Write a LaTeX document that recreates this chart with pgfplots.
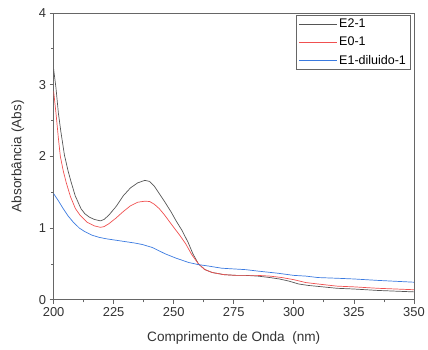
\documentclass[border=0pt]{standalone}
\usepackage{pgfplots}
\pgfplotsset{compat=1.18}
\usepackage{fontspec}
\setmainfont{Liberation Sans}
\usetikzlibrary{calc}
\definecolor{cgrey}{HTML}{666666}
\definecolor{cline}{HTML}{555555}
\definecolor{cred}{HTML}{F05050}
\definecolor{cblue}{HTML}{3A7AE0}
\definecolor{ctext}{HTML}{333333}
\begin{document}
\begin{tikzpicture}
\begin{axis}[
  scale only axis,
  width=363pt, height=289pt,
  xmin=200, xmax=350, ymin=0, ymax=4,
  xtick={200,225,...,350}, ytick={0,1,2,3,4},
  minor x tick num=1, minor y tick num=1,
  tick align=outside,
  major tick length=4pt, minor tick length=2.5pt,
  xtick pos=bottom, ytick pos=left,
  axis line style={cgrey, line width=0.8pt},
  tick style={cgrey, line width=0.7pt},
  ticklabel style={font=\fontsize{13}{14}\selectfont, text=ctext},
  /pgf/number format/assume math mode=true,
  xlabel={Comprimento de Onda\ \ (nm)},
  ylabel={Absorbância (Abs)},
  label style={font=\fontsize{13.7}{15}\selectfont, text=ctext},
  xlabel style={yshift=-9pt},
  ylabel style={yshift=8pt},
  legend style={at={(rel axis cs:0.99,0.994)}, anchor=north east,
    draw=cgrey, line width=0.8pt, font=\fontsize{12.6}{13}\selectfont,
    inner sep=2pt, row sep=4pt, cells={anchor=west}},
  legend cell align=left,
  legend image code/.code={\draw[#1, line width=0.7pt] (0pt,0pt) -- (38pt,0pt);},
]
\addplot[cline, line width=0.7pt] coordinates {
(200,3.22) (201,2.95) (202,2.6) (203,2.35) (204.5,2.02) (206,1.8) (207.3,1.64) (209,1.45) (211.4,1.27) (213,1.2) (215,1.15) (217,1.12) (219.5,1.10) (221,1.12) (223,1.18) (226,1.3) (229,1.45) (232,1.56) (235,1.63) (238,1.665) (240,1.65) (242,1.58) (244,1.48) (246,1.38) (249,1.22) (251,1.1) (253.4,0.97) (256,0.8) (258,0.64) (260.3,0.5) (263,0.42) (266,0.38) (271,0.35) (276,0.34) (280,0.34) (285,0.33) (290,0.31) (294,0.29) (298,0.26) (302,0.22) (306,0.2) (312,0.18) (318,0.16) (325,0.15) (335,0.13) (350,0.11)
};
\addlegendentry{E2-1}
\addplot[cred, line width=0.7pt] coordinates {
(200,2.91) (201,2.6) (202,2.25) (202.8,2.0) (204,1.8) (205.2,1.64) (207,1.44) (209.1,1.27) (211,1.18) (214,1.08) (217,1.03) (219.5,1.01) (221,1.02) (223,1.06) (226,1.14) (229,1.23) (232,1.31) (235,1.36) (238,1.375) (240,1.37) (242,1.33) (244,1.27) (246,1.19) (248,1.1) (250,1.01) (252.5,0.9) (255,0.78) (257.5,0.63) (260.3,0.5) (263,0.42) (266,0.38) (271,0.35) (276,0.34) (280,0.34) (285,0.34) (290,0.33) (295,0.31) (300,0.28) (305,0.24) (310,0.22) (318,0.19) (325,0.18) (335,0.16) (350,0.14)
};
\addlegendentry{E0-1}
\addplot[cblue, line width=0.7pt] coordinates {
(200,1.48) (202,1.38) (204,1.27) (206,1.17) (208,1.09) (210.7,1.0) (213,0.95) (216,0.9) (219,0.87) (222,0.85) (226,0.83) (230,0.81) (234,0.79) (237,0.77) (241,0.73) (246.5,0.64) (251,0.58) (256.2,0.52) (260.3,0.49) (264.5,0.47) (270,0.44) (275,0.43) (280,0.42) (285,0.40) (293.4,0.37) (300,0.34) (305,0.33) (310,0.31) (318,0.3) (325,0.29) (335,0.27) (350,0.245)
};
\addlegendentry{E1-diluido-1}
\end{axis}
\path[use as bounding box] ($(current axis.south west)+(-54pt,-50pt)$) rectangle ($(current axis.north east)+(11pt,13pt)$);
\end{tikzpicture}
\end{document}
